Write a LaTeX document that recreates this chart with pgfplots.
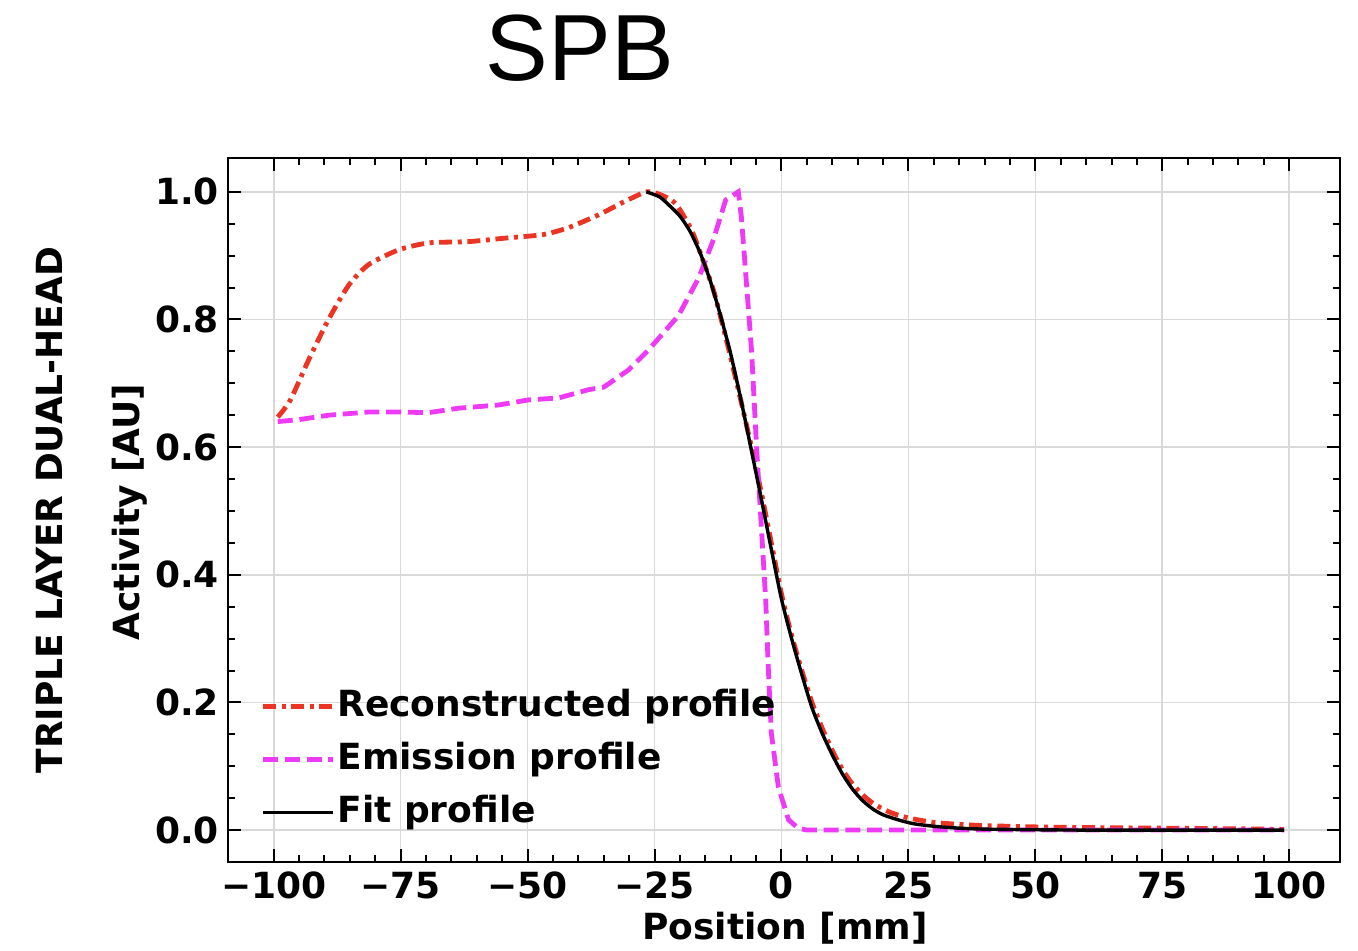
\documentclass[border=0pt]{standalone}
\usepackage{pgfplots}
\pgfplotsset{compat=1.18}
\usepackage{fontspec}
\setmainfont{DejaVu Sans}
\newfontfamily\titlefont{Liberation Sans}
\definecolor{recred}{RGB}{236,52,36}
\definecolor{emimag}{RGB}{238,58,246}
\newcommand{\lblfont}{\bfseries\fontsize{18}{22}\selectfont}
\newcommand{\tickfont}{\bfseries\fontsize{18}{21}\selectfont}
\begin{document}
\begin{tikzpicture}
\path[use as bounding box] (0,0) rectangle (679pt,475.5pt);
\begin{axis}[
  at={(114pt,44.5pt)}, anchor=south west,
  scale only axis, width=556pt, height=352pt,
  xmin=-109, xmax=110, ymin=-0.05, ymax=1.053,
  xtick={-100,-75,-50,-25,0,25,50,75,100},
  xticklabels={−100,−75,−50,−25,0,25,50,75,100},
  ytick={0,0.2,0.4,0.6,0.8,1.0},
  yticklabels={0.0,0.2,0.4,0.6,0.8,1.0},
  minor x tick num=4, minor y tick num=3,
  tick align=inside,
  xtick pos=both, ytick pos=both,
  major tick length=6.5pt, minor tick length=3.5pt,
  every tick/.style={black, line width=1pt},
  axis line style={line width=1.2pt},
  grid=major,
  major grid style={gray!30, line width=0.8pt},
  tick label style={font=\tickfont},
  xticklabel style={yshift=-1.5pt},
  yticklabel style={xshift=-1pt},
  legend style={at={(0.029,0.042)}, anchor=south west, draw=none, fill=none,
    font=\lblfont, row sep=7pt, inner sep=0pt,
    nodes={inner sep=1pt, text height=13.5pt, text depth=4pt}},
  legend cell align=left,
  legend image code/.code={\draw[#1] (0pt,0pt) -- (35pt,0pt);},
]
\addplot[recred, line width=2.4pt, dash pattern=on 6.5pt off 2.8pt on 2pt off 2.8pt, smooth, tension=0.4] coordinates {
(-99.2,0.647) (-96.7,0.674) (-93.1,0.737) (-89.2,0.800) (-85.2,0.854) (-81.3,0.886)
(-75.4,0.909) (-69.5,0.920) (-61.6,0.922) (-53.7,0.928) (-46.9,0.933) (-41.9,0.944)
(-36.0,0.964) (-31.1,0.984) (-26.6,1.000) (-24.0,0.996) (-20.9,0.982) (-17.7,0.940)
(-15.7,0.898) (-13.4,0.846) (-11.0,0.773) (-8.5,0.690) (-6.1,0.607) (-4,0.530)
(-2,0.450) (0,0.370) (2,0.305) (4,0.250) (6,0.200) (8,0.160) (10,0.125) (12,0.095)
(14,0.072) (16,0.055) (18,0.042) (20,0.033) (22,0.026) (25,0.019) (30,0.012)
(35,0.009) (40,0.007) (50,0.005) (60,0.004) (75,0.003) (90,0.002) (99,0.001)
};
\addlegendentry{Reconstructed profile}
\addplot[emimag, line width=2.4pt, dash pattern=on 7.5pt off 3.4pt] coordinates {
(-99.2,0.640) (-95.1,0.643) (-89.2,0.650) (-81.3,0.655) (-75.4,0.655) (-69.5,0.654)
(-63.6,0.661) (-55.7,0.666) (-49.8,0.674) (-43.9,0.677) (-38.0,0.690) (-35.0,0.694)
(-30.1,0.721) (-26.2,0.752) (-20.3,0.806) (-16.3,0.865) (-13.4,0.925) (-11.0,0.987)
(-8.5,1.000) (-7.9,0.961) (-6.9,0.857) (-5.9,0.752) (-4.9,0.600) (-3.1,0.360)
(-2.6,0.255) (-2.0,0.152) (-0.6,0.067) (1.4,0.016) (3.3,0.003) (5,0.0) (20,0.0)
(40,0.0) (60,0.0) (80,0.0) (99,0.0)
};
\addlegendentry{Emission profile}
\addplot[black, line width=1.7pt, smooth, tension=0.4] coordinates {
(-26.6,1.000) (-24,0.992) (-22,0.978) (-20,0.962) (-18,0.938) (-16,0.904) (-14,0.860)
(-12,0.806) (-10,0.746) (-8,0.675) (-6,0.598) (-4,0.520) (-2,0.440) (0,0.362)
(2,0.300) (4,0.244) (6,0.192) (8,0.152) (10,0.118) (12,0.088) (14,0.064) (16,0.046)
(18,0.033) (20,0.024) (23,0.016) (26,0.010) (30,0.006) (35,0.003) (40,0.0015)
(50,0.0005) (60,0.0) (80,0.0) (99,0.0)
};
\addlegendentry{Fit profile}
\end{axis}
\node at (290pt,451.5pt) {\titlefont\fontsize{47}{54}\selectfont SPB};
\node[rotate=90] at (25pt,220.5pt) {\lblfont TRIPLE LAYER DUAL-HEAD};
\node[rotate=90] at (65pt,219.5pt) {\lblfont Activity [AU]};
\node at (392.5pt,11.5pt) {\lblfont Position [mm]};
\end{tikzpicture}
\end{document}
